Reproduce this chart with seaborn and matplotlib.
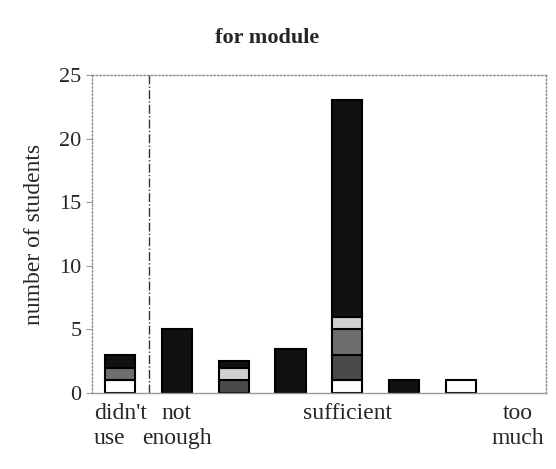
import numpy as np
import pandas as pd
import matplotlib
matplotlib.use('Agg')
import matplotlib.pyplot as plt
import seaborn as sns

# categories along the x axis (first is "didn't use", then 7 levels)
positions = ['c0', 'c1', 'c2', 'c3', 'c4', 'c5', 'c6', 'c7']
tick_labels = ["didn't\nuse", "not\nenough", '', '', 'sufficient', '', '', 'too\nmuch']

# stacked series, bottom to top
white = [1, 0, 0, 0, 1, 0, 1, 0]
dark_gray = [0, 0, 1, 0, 2, 0, 0, 0]
mid_gray = [1, 0, 0, 0, 2, 0, 0, 0]
light_gray = [0, 0, 1, 0, 1, 0, 0, 0]
black = [1, 5, 0.5, 3.5, 17, 1, 0, 0]

series = [
    (white, 'white'),
    (dark_gray, '#4a4a4a'),
    (mid_gray, '#6e6e6e'),
    (light_gray, '#d0d0d0'),
    (black, '#111111'),
]

sns.set_style('white')
plt.rcParams['font.family'] = ['Liberation Serif', 'DejaVu Serif']

fig = plt.figure(figsize=(5.56, 4.69), dpi=100)
ax = fig.add_axes([0.165, 0.162, 0.817, 0.678])

bottom = np.zeros(len(positions))
for vals, col in series:
    df = pd.DataFrame({'cat': positions, 'n': vals})
    sns.barplot(data=df, x='cat', y='n', bottom=bottom, color=col,
                edgecolor='black', linewidth=1.5, width=0.53,
                saturation=1, ax=ax, errorbar=None)
    bottom = bottom + np.array(vals, dtype=float)

for p in ax.patches:
    if p.get_height() == 0:
        p.set_visible(False)

ax.axvline(0.5, color='#333333', linestyle='-.', linewidth=1)

ax.set_xlim(-0.5, 7.5)
ax.set_ylim(0, 25)
ax.set_yticks([0, 5, 10, 15, 20, 25])
ax.set_xticks(range(8))
ax.set_xticklabels(tick_labels, fontsize=17, linespacing=1.25)
ax.get_xticklabels()[0].set_multialignment('left')
ax.set_xticks(np.arange(0.5, 7.5, 1), minor=True)
ax.tick_params(axis='x', which='major', length=0, pad=7)
ax.tick_params(axis='x', which='minor', length=4, color='#999999', direction='out')
ax.tick_params(axis='y', labelsize=16, length=4, color='#999999', direction='out', left=True)
ax.set_xlabel('')
ax.set_ylabel('number of students', fontsize=17, labelpad=10)

for s in ax.spines.values():
    s.set_visible(True)
    s.set_color('#888888')
    s.set_linestyle(':')
    s.set_linewidth(1)
ax.spines['bottom'].set_linestyle('-')
ax.spines['bottom'].set_color('#999999')

fig.text(0.48, 0.918, 'for module', ha='center', va='center',
         fontsize=16, fontweight='bold')

fig.savefig('out.png', dpi=100)
